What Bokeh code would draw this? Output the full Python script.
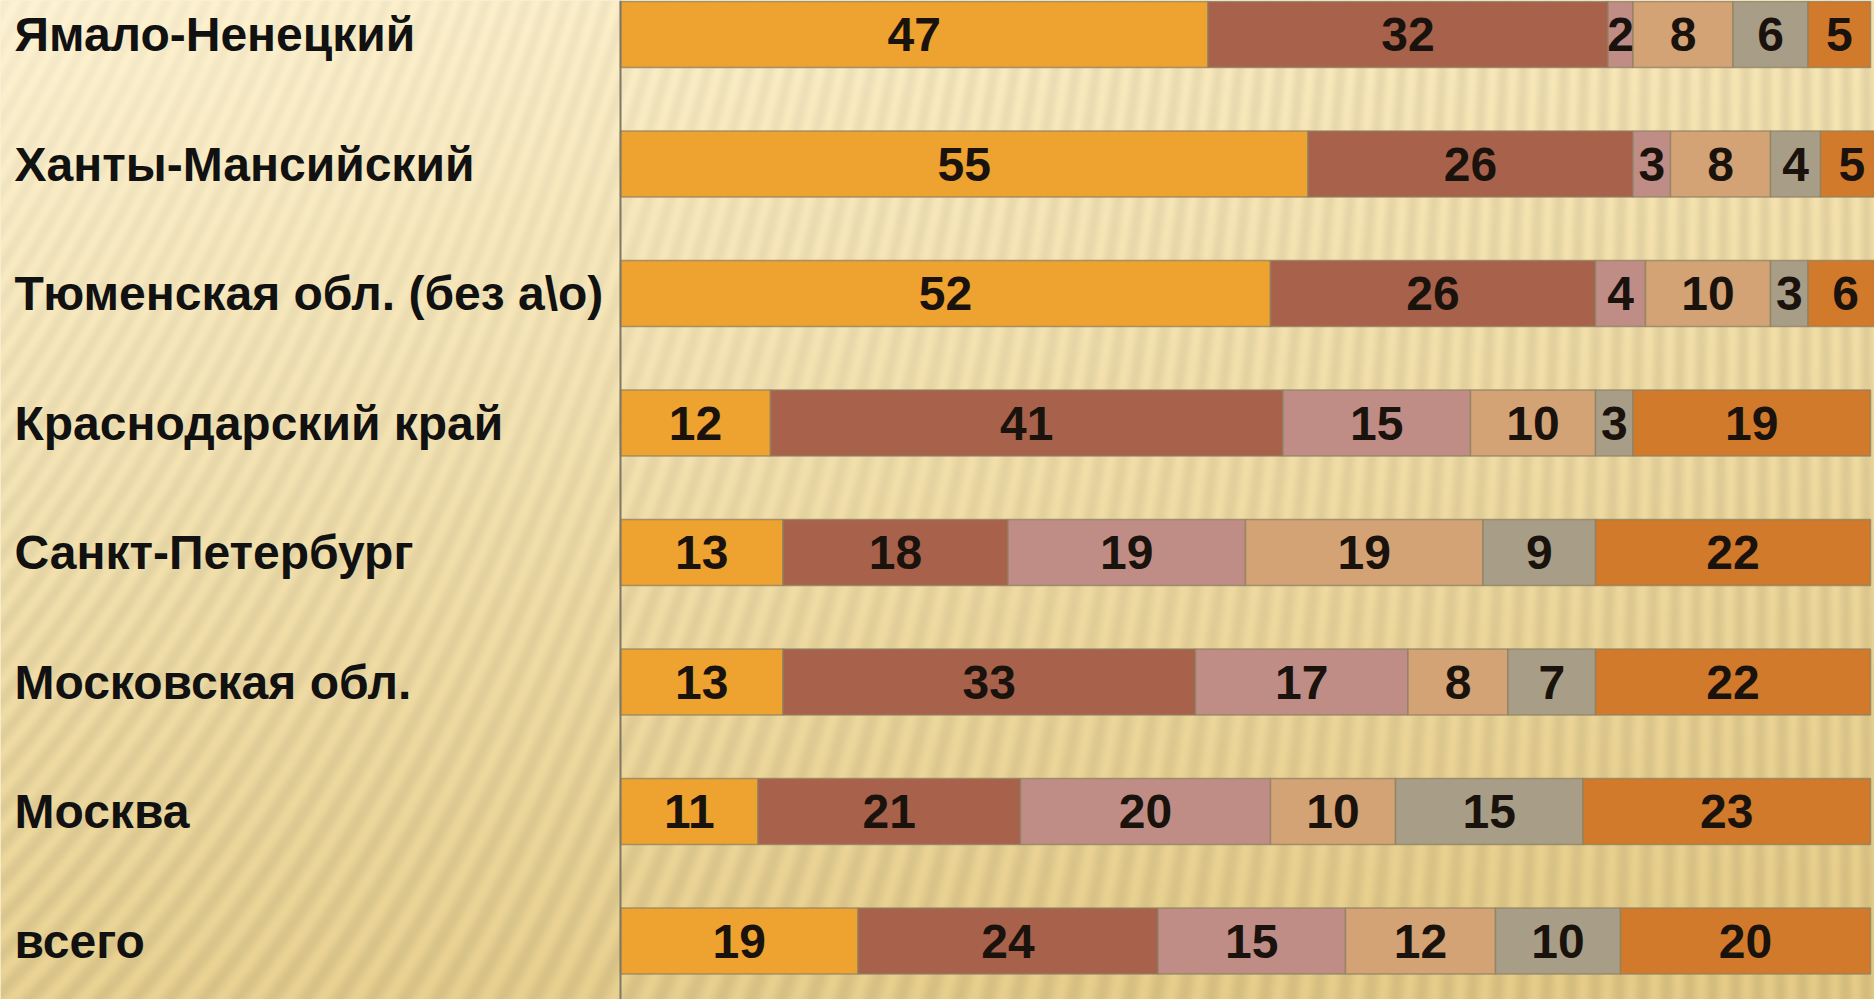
import numpy as np
from bokeh.plotting import figure
from bokeh.models import Span, ColumnDataSource, Range1d
from bokeh.core.properties import value
from bokeh.embed import file_html
from bokeh.resources import INLINE

# ---------------- data ----------------
categories = ["Ямало-Ненецкий", "Ханты-Мансийский", "Тюменская обл. (без а\\о)",
              "Краснодарский край", "Санкт-Петербург", "Московская обл.",
              "Москва", "всего"]
s1 = [47, 55, 52, 12, 13, 13, 11, 19]
s2 = [32, 26, 26, 41, 18, 33, 21, 24]
s3 = [2, 3, 4, 15, 19, 17, 20, 15]
s4 = [8, 8, 10, 10, 19, 8, 10, 12]
s5 = [6, 4, 3, 3, 9, 7, 15, 10]
s6 = [5, 5, 6, 19, 22, 22, 23, 20]
series = [s1, s2, s3, s4, s5, s6]
names = ["s1", "s2", "s3", "s4", "s5", "s6"]
colors = ["#EEA22F", "#A8624B", "#BF8D86", "#D3A275", "#A89E87", "#D17A2B"]

# ---------------- layout ----------------
W_PX, H_PX = 1874, 999
SCALE = 12.5                      # px per unit
AXIS_PX = 620
X0 = -AXIS_PX / SCALE
X1 = (W_PX - AXIS_PX) / SCALE
Y0, Y1 = -0.451, 7.263

n = len(categories)
ypos = [n - 1 - i for i in range(n)]

p = figure(width=W_PX, height=H_PX, output_backend="svg", toolbar_location=None,
           x_range=Range1d(X0, X1), y_range=Range1d(Y0, Y1),
           min_border=0, min_border_left=0, min_border_right=0,
           min_border_top=0, min_border_bottom=0)
p.xaxis.visible = False
p.yaxis.visible = False
p.xgrid.visible = False
p.ygrid.visible = False
p.outline_line_color = None
p.background_fill_color = "#F6E6B4"
p.border_fill_color = "#F6E6B4"

# ---------------- background (gradient + stripes) ----------------
H, W = 500, 937
yy, xx = np.mgrid[0:H, 0:W].astype(float)
fx = xx / (W - 1)
fy = yy / (H - 1)
tl = np.array([254, 243, 211.0])
tr = np.array([248, 231, 182.0])
bl = np.array([234, 211, 147.0])
br = np.array([229, 203, 134.0])
col = (tl * ((1 - fx) * (1 - fy))[..., None] + tr * (fx * (1 - fy))[..., None]
       + bl * ((1 - fx) * fy)[..., None] + br * (fx * fy)[..., None])
k = 0.55 * (1 - fx) ** 1.5
u = xx + k * yy
stripe = 0.5 + 0.5 * np.sin(2 * np.pi * u / 10.0)
amp = 0.03 + 0.045 * np.maximum(fx, fy)
col = col * (1 - amp[..., None] * stripe[..., None])
img = np.empty((H, W), dtype=np.uint32)
view = img.view(dtype=np.uint8).reshape((H, W, 4))
view[..., 0] = np.clip(col[..., 0], 0, 255)
view[..., 1] = np.clip(col[..., 1], 0, 255)
view[..., 2] = np.clip(col[..., 2], 0, 255)
view[..., 3] = 255
img = np.flipud(img).copy()
p.image_rgba(image=[img], x=X0, y=Y0, dw=X1 - X0, dh=Y1 - Y0)

# ---------------- bars ----------------
src = ColumnDataSource(dict(y=ypos, **{nm: s for nm, s in zip(names, series)}))
p.hbar_stack(names, y="y", height=0.51, color=colors, source=src,
             line_color="#8E8062", line_width=1.5, line_alpha=0.75)

# axis line
p.add_layout(Span(location=0, dimension="height", line_color="#7E7966", line_width=2))

# ---------------- value labels ----------------
arr = np.array(series, dtype=float)          # shape (6, n)
cum = np.cumsum(arr, axis=0)
mid = cum - arr / 2
lx, ly, lt = [], [], []
for j in range(arr.shape[0]):
    for i in range(n):
        lx.append(mid[j, i])
        ly.append(ypos[i])
        lt.append(str(int(arr[j, i])))
p.text(x=lx, y=ly, text=lt, text_align="center", text_baseline="middle",
       text_font=value("Liberation Sans"), text_font_style="bold",
       text_font_size="48px", text_color="#1A120C")

# ---------------- category labels ----------------
p.text(x=[X0 + 14 / SCALE] * n, y=ypos, text=categories, text_align="left",
       text_baseline="middle", text_font=value("Liberation Sans"),
       text_font_style="bold", text_font_size="48px", text_color="#111111")

open("out.html", "w").write(file_html(p, INLINE))
